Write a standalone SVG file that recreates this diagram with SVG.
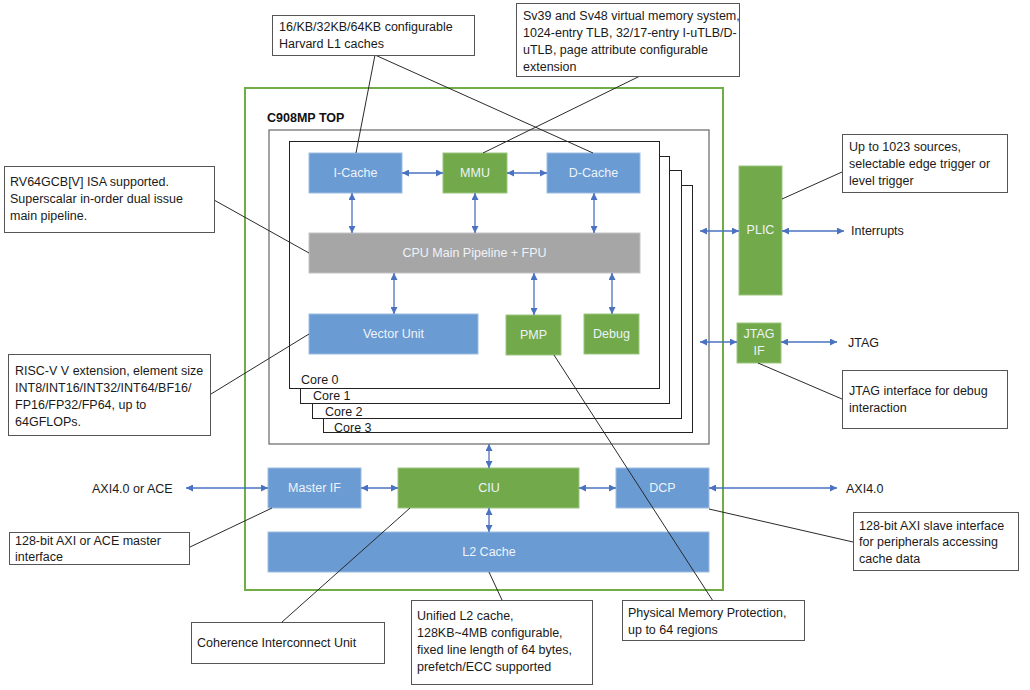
<svg xmlns="http://www.w3.org/2000/svg" width="1030" height="690" viewBox="0 0 1030 690">
<style>
  .bg{fill:#ffffff}
  .blue{fill:#6a9bd3;stroke:#9dbde3;stroke-width:1}
  .green{fill:#72a94a;stroke:#9cc57e;stroke-width:1}
  .gray{fill:#a6a6a6;stroke:#c4c4c4;stroke-width:1}
  .nt{font-family:"Liberation Sans",Arial,sans-serif;font-size:12.5px;fill:#eef3fa;text-anchor:middle;dominant-baseline:central}
  .ct{font-family:"Liberation Sans",Arial,sans-serif;font-size:12.5px;fill:#1a1a1a}
  .callout{fill:#ffffff;stroke:#555555;stroke-width:1}
  .core{fill:#ffffff;stroke:#222222;stroke-width:1}
  .lead{stroke:#2a2a2a;stroke-width:1;fill:none}
  .arr{stroke:#4a72c0;stroke-width:1.3;fill:none;marker-start:url(#ah);marker-end:url(#ah)}
</style>
<defs>
  <marker id="ah" viewBox="0 0 10 10" refX="10" refY="5" markerWidth="8" markerHeight="7" markerUnits="userSpaceOnUse" orient="auto-start-reverse">
    <path d="M0,0 L10,5 L0,10 z" fill="#4a72c0"/>
  </marker>
</defs>
<rect class="bg" x="0" y="0" width="1030" height="690"/>

<g id="top">
  <rect x="245" y="88" width="478" height="502" fill="none" stroke="#70ad47" stroke-width="2"/>
  <text x="267" y="122" font-family="Liberation Sans,Arial,sans-serif" font-size="12.5" font-weight="bold" fill="#111">C908MP TOP</text>
</g>
<g id="cluster">
  <rect x="269" y="130" width="440" height="314" fill="#ffffff" stroke="#666" stroke-width="1.2"/>
</g>
<g id="cores">
  <rect class="core" x="323.5" y="185.5" width="369" height="247"/>
  <text class="ct" x="334" y="432">Core 3</text>
  <rect class="core" x="312.5" y="170.5" width="369" height="248"/>
  <text class="ct" x="325" y="416">Core 2</text>
  <rect class="core" x="300.5" y="156.5" width="369" height="247"/>
  <text class="ct" x="313" y="400">Core 1</text>
  <rect class="core" x="289.5" y="141.5" width="370" height="247"/>
  <text class="ct" x="301" y="384">Core 0</text>
</g>

<g id="icache"><rect class="blue" x="309" y="153" width="93" height="40"/><text class="nt" x="355.5" y="173">I-Cache</text></g>
<g id="mmu"><rect class="green" x="443" y="153" width="64" height="40"/><text class="nt" x="475" y="173">MMU</text></g>
<g id="dcache"><rect class="blue" x="547" y="153" width="93" height="40"/><text class="nt" x="593.5" y="173">D-Cache</text></g>
<g id="pipeline"><rect class="gray" x="309" y="233" width="331" height="40"/><text class="nt" x="474.5" y="253">CPU Main Pipeline + FPU</text></g>
<g id="vector"><rect class="blue" x="309" y="314" width="169" height="40"/><text class="nt" x="393.5" y="334">Vector Unit</text></g>
<g id="pmp"><rect class="green" x="506" y="315" width="55" height="40"/><text class="nt" x="533.5" y="335">PMP</text></g>
<g id="debug"><rect class="green" x="584" y="314" width="55" height="40"/><text class="nt" x="611.5" y="334">Debug</text></g>
<g id="plic"><rect class="green" x="739" y="166" width="43" height="129"/><text class="nt" x="760.5" y="230">PLIC</text></g>
<g id="jtagif"><rect class="green" x="737" y="323" width="44" height="40"/><text class="nt" x="759" y="334">JTAG</text><text class="nt" x="759" y="351">IF</text></g>
<g id="masterif"><rect class="blue" x="268" y="468" width="93" height="40"/><text class="nt" x="314.5" y="488">Master IF</text></g>
<g id="ciu"><rect class="green" x="398" y="468" width="181" height="40"/><text class="nt" x="489" y="488">CIU</text></g>
<g id="dcp"><rect class="blue" x="616" y="468" width="93" height="40"/><text class="nt" x="662.5" y="488">DCP</text></g>
<g id="l2cache"><rect class="blue" x="268" y="532" width="441" height="40"/><text class="nt" x="489" y="552">L2 Cache</text></g>

<g id="labels">
  <text class="ct" x="851" y="235">Interrupts</text>
  <text class="ct" x="848" y="347">JTAG</text>
  <text class="ct" x="92" y="493">AXI4.0 or ACE</text>
  <text class="ct" x="846" y="493">AXI4.0</text>
</g>

<g id="connectors">
  <path class="arr" d="M402,173 H443"/>
  <path class="arr" d="M507,173 H547"/>
  <path class="arr" d="M352,193 V233"/>
  <path class="arr" d="M475,193 V233"/>
  <path class="arr" d="M594,193 V233"/>
  <path class="arr" d="M394,273 V314"/>
  <path class="arr" d="M534,273 V315"/>
  <path class="arr" d="M612,273 V314"/>
  <path class="arr" d="M700,231 H739"/>
  <path class="arr" d="M782,231 H844"/>
  <path class="arr" d="M700,342 H737"/>
  <path class="arr" d="M781,342 H837"/>
  <path class="arr" d="M186,488 H268"/>
  <path class="arr" d="M361,488 H398"/>
  <path class="arr" d="M579,488 H616"/>
  <path class="arr" d="M709,488 H837"/>
  <path class="arr" d="M489,444 V468"/>
  <path class="arr" d="M489,508 V532"/>
  <!-- callout leaders -->
  <path class="lead" d="M375,55 L356,153"/>
  <path class="lead" d="M375,55 L593,153"/>
  <path class="lead" d="M640,76 L483,153"/>
  <path class="lead" d="M214,200 L309,253"/>
  <path class="lead" d="M211,394 L309,334"/>
  <path class="lead" d="M842,172 L782,199"/>
  <path class="lead" d="M842,399 L758,363"/>
  <path class="lead" d="M190,547 L272,508"/>
  <path class="lead" d="M282,622 L410,508"/>
  <path class="lead" d="M489,572 L502,600"/>
  <path class="lead" d="M554,355 L713,601"/>
  <path class="lead" d="M709,509 L853,542"/>
</g>

<g id="callout-l1">
  <rect class="callout" x="272.5" y="15.5" width="202" height="40"/>
  <text class="ct" x="279" y="31">16/KB/32KB/64KB configurable</text>
  <text class="ct" x="279" y="48">Harvard L1 caches</text>
</g>
<g id="callout-mmu">
  <rect class="callout" x="516.5" y="3.5" width="223" height="73"/>
  <text class="ct" x="523" y="20">Sv39 and Sv48 virtual memory system,</text>
  <text class="ct" x="523" y="37">1024-entry TLB, 32/17-entry I-uTLB/D-</text>
  <text class="ct" x="523" y="54">uTLB, page attribute configurable</text>
  <text class="ct" x="523" y="71">extension</text>
</g>
<g id="callout-isa">
  <rect class="callout" x="4.5" y="166.5" width="210" height="66"/>
  <text class="ct" x="10" y="186">RV64GCB[V] ISA supported.</text>
  <text class="ct" x="10" y="203">Superscalar in-order dual issue</text>
  <text class="ct" x="10" y="220">main pipeline.</text>
</g>
<g id="callout-vector">
  <rect class="callout" x="8.5" y="354.5" width="202" height="81"/>
  <text class="ct" x="15" y="375">RISC-V V extension, element size</text>
  <text class="ct" x="15" y="392">INT8/INT16/INT32/INT64/BF16/</text>
  <text class="ct" x="15" y="409">FP16/FP32/FP64, up to</text>
  <text class="ct" x="15" y="426">64GFLOPs.</text>
</g>
<g id="callout-plic">
  <rect class="callout" x="842.5" y="134.5" width="165" height="58"/>
  <text class="ct" x="849" y="151">Up to 1023 sources,</text>
  <text class="ct" x="849" y="168">selectable edge trigger or</text>
  <text class="ct" x="849" y="185">level trigger</text>
</g>
<g id="callout-jtag">
  <rect class="callout" x="842.5" y="370.5" width="165" height="58"/>
  <text class="ct" x="849" y="395">JTAG interface for debug</text>
  <text class="ct" x="849" y="412">interaction</text>
</g>
<g id="callout-master">
  <rect class="callout" x="9.5" y="532.5" width="180" height="32"/>
  <text class="ct" x="15" y="545">128-bit AXI or ACE master</text>
  <text class="ct" x="15" y="561">interface</text>
</g>
<g id="callout-ciu">
  <rect class="callout" x="191.5" y="622.5" width="193" height="41"/>
  <text class="ct" x="197" y="647">Coherence Interconnect Unit</text>
</g>
<g id="callout-l2">
  <rect class="callout" x="411.5" y="600.5" width="181" height="84"/>
  <text class="ct" x="417" y="620">Unified L2 cache,</text>
  <text class="ct" x="417" y="637">128KB~4MB configurable,</text>
  <text class="ct" x="417" y="654">fixed line length of 64 bytes,</text>
  <text class="ct" x="417" y="671">prefetch/ECC supported</text>
</g>
<g id="callout-pmp">
  <rect class="callout" x="622.5" y="600.5" width="182" height="40"/>
  <text class="ct" x="628" y="617">Physical Memory Protection,</text>
  <text class="ct" x="628" y="634">up to 64 regions</text>
</g>
<g id="callout-dcp">
  <rect class="callout" x="853.5" y="512.5" width="165" height="58"/>
  <text class="ct" x="859" y="530">128-bit AXI slave interface</text>
  <text class="ct" x="859" y="546">for peripherals accessing</text>
  <text class="ct" x="859" y="563">cache data</text>
</g>
</svg>
